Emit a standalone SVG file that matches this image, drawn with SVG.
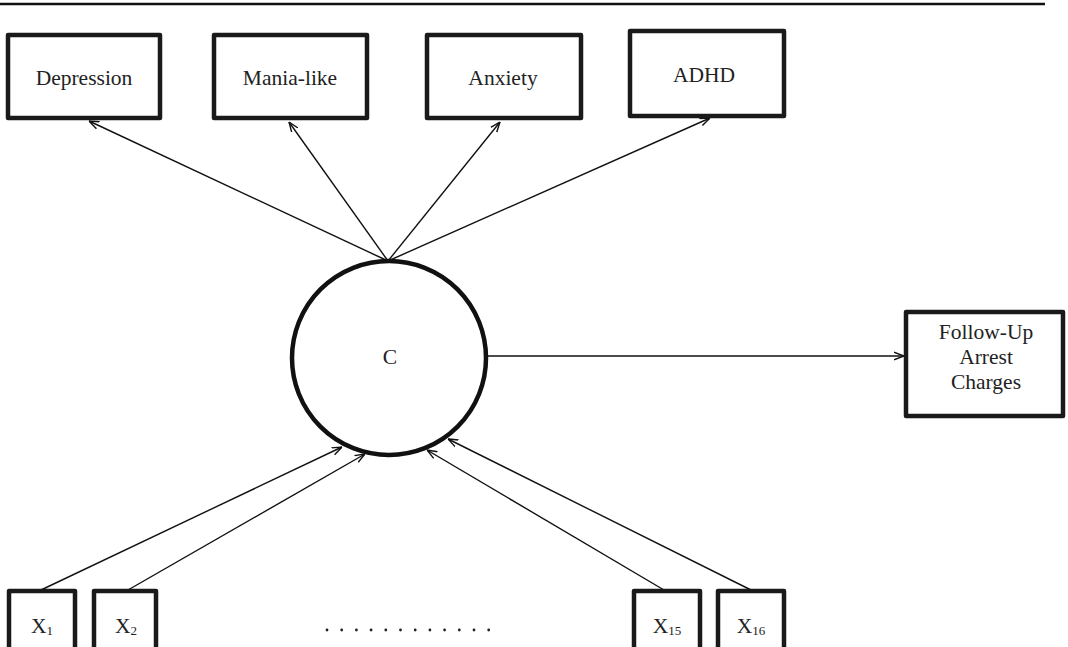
<svg xmlns="http://www.w3.org/2000/svg" width="1068" height="647" viewBox="0 0 1068 647">
<defs>
<style>
.box{fill:#fff;stroke:#1a1a1a;stroke-width:4.5;stroke-linejoin:round}
.lbl{font-family:"Liberation Serif","Times New Roman",serif;font-size:21.5px;fill:#222;text-anchor:middle}
.sub{font-size:13px}
.conn{stroke:#111;stroke-width:1.4;fill:none;marker-end:url(#arr)}
.dot{fill:#222}
</style>
<marker id="arr" viewBox="0 0 10 10" refX="10" refY="5" markerWidth="10" markerHeight="10" markerUnits="userSpaceOnUse" orient="auto">
<path d="M0,1.2 L10,5 L0,8.8" fill="none" stroke="#111" stroke-width="1.4"/>
</marker>
</defs>
<rect width="1068" height="647" fill="#fff"/>
<line x1="0" y1="4" x2="1045" y2="4" stroke="#111" stroke-width="2.5"/>

<g id="connectors">
<line class="conn" x1="388" y1="261" x2="89" y2="121"/>
<line class="conn" x1="388" y1="261" x2="289" y2="122"/>
<line class="conn" x1="388" y1="261" x2="500" y2="122"/>
<line class="conn" x1="388" y1="261" x2="710" y2="118"/>
<line class="conn" x1="488" y1="356" x2="904" y2="356"/>
<line class="conn" x1="41" y1="590" x2="342" y2="447"/>
<line class="conn" x1="128" y1="590" x2="365" y2="454"/>
<line class="conn" x1="664" y1="590" x2="427" y2="450"/>
<line class="conn" x1="751" y1="590" x2="448" y2="439"/>
</g>

<g id="depression">
<rect class="box" x="8" y="35" width="152" height="83"/>
<text class="lbl" x="84" y="85">Depression</text>
</g>
<g id="mania">
<rect class="box" x="214" y="35" width="153" height="83"/>
<text class="lbl" x="290" y="85">Mania-like</text>
</g>
<g id="anxiety">
<rect class="box" x="427" y="35" width="154" height="83"/>
<text class="lbl" x="503" y="85">Anxiety</text>
</g>
<g id="adhd">
<rect class="box" x="630" y="31" width="154" height="85"/>
<text class="lbl" x="704" y="82">ADHD</text>
</g>
<g id="c">
<circle cx="389" cy="358" r="97" fill="#fff" stroke="#111" stroke-width="4.5"/>
<text class="lbl" x="390" y="364">C</text>
</g>
<g id="followup">
<rect class="box" x="906" y="312" width="157" height="104"/>
<text class="lbl" x="986" y="339">Follow-Up</text>
<text class="lbl" x="986" y="364">Arrest</text>
<text class="lbl" x="986" y="389">Charges</text>
</g>
<g id="x1">
<rect class="box" x="9" y="591" width="66" height="70"/>
<text class="lbl" x="42" y="633">X<tspan class="sub" dy="2">1</tspan></text>
</g>
<g id="x2">
<rect class="box" x="94" y="591" width="62" height="70"/>
<text class="lbl" x="126" y="633">X<tspan class="sub" dy="2">2</tspan></text>
</g>
<g id="x15">
<rect class="box" x="634" y="591" width="66" height="70"/>
<text class="lbl" x="667" y="633">X<tspan class="sub" dy="2">15</tspan></text>
</g>
<g id="x16">
<rect class="box" x="718" y="591" width="66" height="70"/>
<text class="lbl" x="751" y="633">X<tspan class="sub" dy="2">16</tspan></text>
</g>
<g id="dots">
<circle class="dot" cx="327" cy="630" r="1.4"/>
<circle class="dot" cx="341.7" cy="630" r="1.4"/>
<circle class="dot" cx="356.4" cy="630" r="1.4"/>
<circle class="dot" cx="371.1" cy="630" r="1.4"/>
<circle class="dot" cx="385.8" cy="630" r="1.4"/>
<circle class="dot" cx="400.5" cy="630" r="1.4"/>
<circle class="dot" cx="415.2" cy="630" r="1.4"/>
<circle class="dot" cx="429.9" cy="630" r="1.4"/>
<circle class="dot" cx="444.6" cy="630" r="1.4"/>
<circle class="dot" cx="459.3" cy="630" r="1.4"/>
<circle class="dot" cx="474" cy="630" r="1.4"/>
<circle class="dot" cx="488.7" cy="630" r="1.4"/>
</g>
</svg>
